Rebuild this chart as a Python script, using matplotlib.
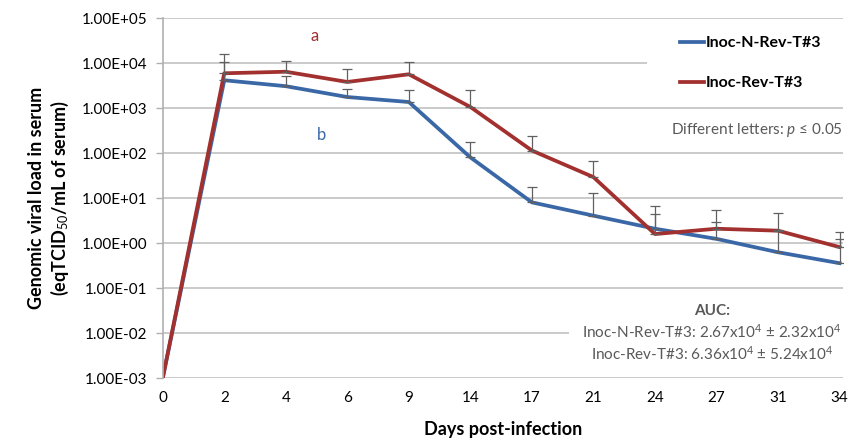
import matplotlib
matplotlib.use("Agg")
import matplotlib.pyplot as plt
import numpy as np
from matplotlib.patches import Rectangle

plt.rcParams["font.family"] = ["Lato", "DejaVu Sans"]
plt.rcParams["mathtext.fontset"] = "custom"
plt.rcParams["mathtext.rm"] = "Lato"
plt.rcParams["mathtext.it"] = "Lato:italic"

days = ["0", "2", "4", "6", "9", "14", "17", "21", "24", "27", "31", "34"]

# mean genomic viral load
n_rev_mean = [0.001, 4200, 3100, 1780, 1380, 81, 8.1, 4.1, 2.1, 1.25, 0.63, 0.36]
rev_mean = [0.001, 6000, 6500, 3850, 5700, 1070, 115, 29.5, 1.6, 2.1, 1.9, 0.82]
# top of the error bars
n_rev_upper = [0.001, 10700, 5100, 2700, 2500, 178, 17.6, 13, 4.5, 3.0, 2.0, 1.27]
rev_upper = [0.001, 15800, 11300, 7400, 10500, 2570, 240, 66, 6.6, 5.5, 4.6, 1.75]

y_ticks = [1e-3, 1e-2, 1e-1, 1e0, 1e1, 1e2, 1e3, 1e4, 1e5]
y_tick_labels = ["1.00E-03", "1.00E-02", "1.00E-01", "1.00E+00", "1.00E+01",
                 "1.00E+02", "1.00E+03", "1.00E+04", "1.00E+05"]

series_names = ["Inoc-N-Rev-T#3", "Inoc-Rev-T#3"]
blue = "#3a67a6"
red = "#a2302e"
grey_txt = "#595959"

fig = plt.figure(figsize=(8.52, 4.47), dpi=100)
ax = fig.add_axes([0.191, 0.154, 0.798, 0.805])

x = np.arange(len(days))
ax.set_yscale("log")
ax.set_ylim(1e-3, 1e5)
ax.set_xlim(0, len(days) - 1 + 0.05)

for v in y_ticks:
    ax.axhline(v, color="#c6c6c6", lw=1.3, zorder=0)

for mean, upper in [(n_rev_mean, n_rev_upper), (rev_mean, rev_upper)]:
    mean = np.asarray(mean)
    err = np.asarray(upper) - mean
    ax.errorbar(x[1:], mean[1:], yerr=[np.zeros(len(mean) - 1), err[1:]], fmt="none",
                ecolor="#606060", elinewidth=0.9, capsize=3.5, capthick=0.9, zorder=3)

ax.plot(x, n_rev_mean, color=blue, lw=2.7, label=series_names[0], zorder=2,
        solid_joinstyle="round")
ax.plot(x, rev_mean, color=red, lw=2.7, label=series_names[1], zorder=2.1,
        solid_joinstyle="round")

ax.set_xticks(x)
ax.set_xticklabels(days)
ax.set_yticks(y_ticks)
ax.set_yticklabels(y_tick_labels)
ax.yaxis.set_minor_locator(matplotlib.ticker.NullLocator())
ax.tick_params(axis="x", length=0, pad=9, labelsize=11)
ax.tick_params(axis="y", length=5, width=1, color="#b0b0b0", pad=6, labelsize=11)

for s in ["top", "right", "bottom"]:
    ax.spines[s].set_visible(False)
ax.spines["left"].set_color("#b0b0b0")
ax.spines["left"].set_linewidth(1.2)

ax.set_xlabel("Days post-infection", fontsize=13, fontweight="bold", labelpad=12)
ax.set_ylabel("Genomic viral load in serum\n(eqTCID$_{50}$/mL of serum)",
              fontsize=13, fontweight="bold", labelpad=8, linespacing=1.2)

# white panels hiding gridlines behind legend and AUC block
ax.add_patch(Rectangle((0.713, 0.77), 0.3, 0.2, transform=ax.transAxes,
                       facecolor="white", edgecolor="none", zorder=1))
ax.add_patch(Rectangle((0.598, 0.04), 0.41, 0.2, transform=ax.transAxes,
                       facecolor="white", edgecolor="none", zorder=1))

leg = ax.legend(loc="upper left", bbox_to_anchor=(0.74, 0.99), frameon=False,
                handlelength=1.5, handletextpad=0.1, labelspacing=1.6,
                prop={"weight": "bold", "size": 11.5})

ax.text(0.224, 0.95, "a", transform=ax.transAxes, color=red, fontsize=12,
        ha="center", va="center")
ax.text(0.233, 0.675, "b", transform=ax.transAxes, color=blue, fontsize=12,
        ha="center", va="center")
ax.text(1.0, 0.69, "Different letters: $p$ \u2264 0.05", transform=ax.transAxes,
        color=grey_txt, fontsize=11, ha="right", va="center")
ax.text(0.808, 0.188, "AUC:", transform=ax.transAxes, color=grey_txt, fontsize=11,
        fontweight="bold", ha="center", va="center")
ax.text(0.808, 0.13, "Inoc-N-Rev-T#3: 2.67x10$^4$ \u00b1 2.32x10$^4$",
        transform=ax.transAxes, color=grey_txt, fontsize=11, ha="center", va="center")
ax.text(0.808, 0.068, "Inoc-Rev-T#3: 6.36x10$^4$ \u00b1 5.24x10$^4$",
        transform=ax.transAxes, color=grey_txt, fontsize=11, ha="center", va="center")

fig.savefig("out.png", dpi=100)
